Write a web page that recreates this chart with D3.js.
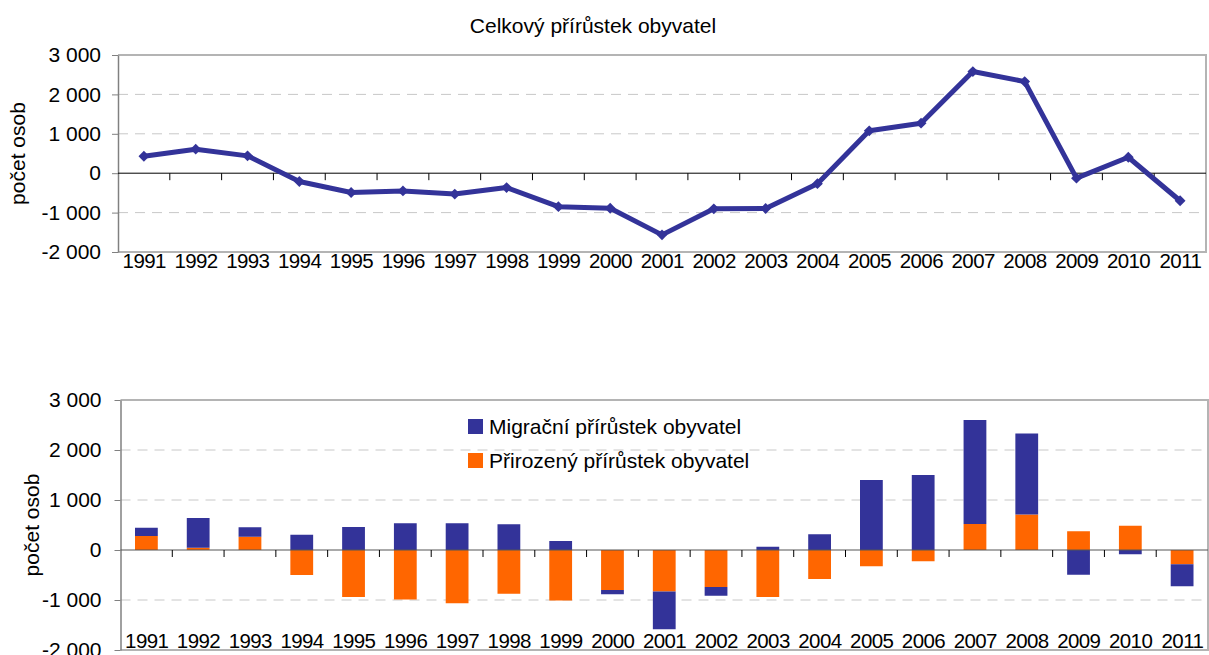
<!DOCTYPE html>
<html>
<head>
<meta charset="utf-8">
<script src="https://cdn.jsdelivr.net/npm/d3@7"></script>
<style>
  body { margin: 0; background: #fff; }
  svg { display: block; font-family: "Liberation Sans", Arial, sans-serif; }
</style>
</head>
<body>
<svg id="chart" width="1209" height="655"></svg>
<script>
// ===== data =====
const years = ["1991", "1992", "1993", "1994", "1995", "1996", "1997", "1998", "1999", "2000",
  "2001", "2002", "2003", "2004", "2005", "2006", "2007", "2008", "2009", "2010", "2011"];
const totalGrowth = [430, 610, 440, -210, -490, -450, -530, -365, -850, -890,
  -1565, -905, -895, -265, 1075, 1270, 2580, 2325, -125, 405, -700];
const naturalGrowth = [280, 45, 265, -500, -940, -990, -1065, -875, -1010, -800,
  -830, -740, -940, -580, -325, -225, 520, 710, 375, 485, -285];
const migrationGrowth = [165, 595, 190, 305, 460, 535, 535, 515, 180, -85,
  -755, -175, 65, 315, 1400, 1500, 2080, 1620, -495, -85, -440];
const yTicks = [-2000, -1000, 0, 1000, 2000, 3000];
const seriesNames = ["Migrační přírůstek obyvatel", "Přirozený přírůstek obyvatel"];

const blue = "#333399";
const orange = "#ff6600";

const cz = d3.formatLocale({ decimal: ",", thousands: " ", grouping: [3], currency: ["", ""], minus: "-" });
const fmt = cz.format(",d");

const svg = d3.select("#chart");

//===== shared frame: grid, borders, axes =====
const drawFrame = (g, x, y, o) => {
  const [x0, x1] = x.range();
  const [yb, yt] = y.range();
  // dashed gridlines
  g.selectAll(".grid")
    .data(yTicks.filter((d) => d != 0 && d != yTicks[0] && d != yTicks[yTicks.length - 1]))
    .enter()
    .append("line")
    .attr("x1", x0).attr("x2", x1)
    .attr("y1", (d) => y(d)).attr("y2", (d) => y(d))
    .attr("stroke", "#c8c8c8")
    .attr("stroke-width", 1)
    .attr("stroke-dasharray", "10,7");
  // plot border (top, right, bottom)
  g.append("path")
    .attr("d", `M${x0},${yt}H${x1}V${yb}H${x0}`)
    .attr("fill", "none")
    .attr("stroke", "#b4b4b4")
    .attr("stroke-width", 2);
  // y axis
  const yAxis = d3.axisLeft(y).tickValues(yTicks).tickFormat(fmt).tickSize(6).tickPadding(o.tickPad).tickSizeOuter(0);
  const yAxisG = g.append("g").attr("transform", `translate(${x0},0)`).call(yAxis);
  yAxisG.select(".domain").attr("stroke", "#808080").attr("stroke-width", 1.5);
  yAxisG.selectAll(".tick line").attr("stroke", "#808080");
  yAxisG.selectAll("text")
    .attr("fill", "#000")
    .style("font-size", "21px")
    .style("font-family", '"Liberation Sans", Arial, sans-serif');
  // zero line with category ticks
  g.append("line")
    .attr("x1", x0).attr("x2", x1)
    .attr("y1", y(0)).attr("y2", y(0))
    .attr("stroke", o.zeroColor)
    .attr("stroke-width", 1);
  g.selectAll(".ctick")
    .data(years.slice(1))
    .enter()
    .append("line")
    .attr("x1", (d) => x(d)).attr("x2", (d) => x(d))
    .attr("y1", y(0)).attr("y2", y(0) + 7)
    .attr("stroke", "#000");
  // category labels
  g.selectAll(".xlab")
    .data(years)
    .enter()
    .append("text")
    .attr("x", (d) => x(d) + x.bandwidth() / 2 + 0.3)
    .attr("y", o.labelY)
    .attr("text-anchor", "middle")
    .style("font-size", "20.5px")
    .style("letter-spacing", "-0.6px")
    .text((d) => d);
  // y title
  g.append("text")
    .attr("transform", `translate(${o.titleX},${(yb + yt) / 2}) rotate(-90)`)
    .attr("text-anchor", "middle")
    .style("font-size", "21px")
    .text("počet osob");
};

//===== top chart: total growth line =====
const gTop = svg.append("g");
const xTop = d3.scaleBand().domain(years).range([118, 1206]);
const yTop = d3.scaleLinear().domain([-2000, 3000]).range([252, 55]);
drawFrame(gTop, xTop, yTop, { zeroColor: "#000", labelY: 268, titleX: 25, tickPad: 11 });

gTop.append("text")
  .attr("x", 593)
  .attr("y", 33)
  .attr("text-anchor", "middle")
  .style("font-size", "21px")
  .text("Celkový přírůstek obyvatel");

const line = d3.line()
  .x((d, i) => xTop(years[i]) + xTop.bandwidth() / 2)
  .y((d) => yTop(d));
gTop.append("path")
  .datum(totalGrowth)
  .attr("d", line)
  .attr("fill", "none")
  .attr("stroke", blue)
  .attr("stroke-width", 5)
  .attr("stroke-linejoin", "round");
gTop.selectAll(".marker")
  .data(totalGrowth)
  .enter()
  .append("path")
  .attr("d", d3.symbol(d3.symbolDiamond2, 75))
  .attr("transform", (d, i) => `translate(${xTop(years[i]) + xTop.bandwidth() / 2},${yTop(d)})`)
  .attr("fill", blue);

//===== bottom chart: natural + migration stacked =====
const gBot = svg.append("g");
const xBot = d3.scaleBand().domain(years).range([120.5, 1208]);
const yBot = d3.scaleLinear().domain([-2000, 3000]).range([650, 400]);

const rows = years.map((d, i) => ({ year: d, natural: naturalGrowth[i], migration: migrationGrowth[i] }));
const stack = d3.stack().keys(["natural", "migration"]).offset(d3.stackOffsetDiverging)(rows);
const colors = { natural: orange, migration: blue };

const barW = xBot.bandwidth() * 0.44;
drawFrame(gBot, xBot, yBot, { zeroColor: "#555", labelY: 648, titleX: 39, tickPad: 13 });

// bars go under the axes but over the gridlines
const barsG = gBot.insert("g", "path");
barsG.selectAll("g")
  .data(stack)
  .enter()
  .append("g")
  .attr("fill", (s) => colors[s.key])
  .selectAll("rect")
  .data((s) => s)
  .enter()
  .append("rect")
  .attr("x", (d) => xBot(d.data.year) + (xBot.bandwidth() - barW) / 2)
  .attr("y", (d) => yBot(d[1]))
  .attr("width", barW)
  .attr("height", (d) => yBot(d[0]) - yBot(d[1]));

// legend
const legend = gBot.selectAll(".legend")
  .data(seriesNames)
  .enter()
  .append("g")
  .attr("transform", (d, i) => `translate(468,${419 + i * 34})`);
legend.append("rect")
  .attr("width", 15)
  .attr("height", 15)
  .attr("fill", (d, i) => (i == 0 ? blue : orange));
legend.append("text")
  .attr("x", 21)
  .attr("y", 15)
  .style("font-size", "21px")
  .text((d) => d);
</script>
</body>
</html>
